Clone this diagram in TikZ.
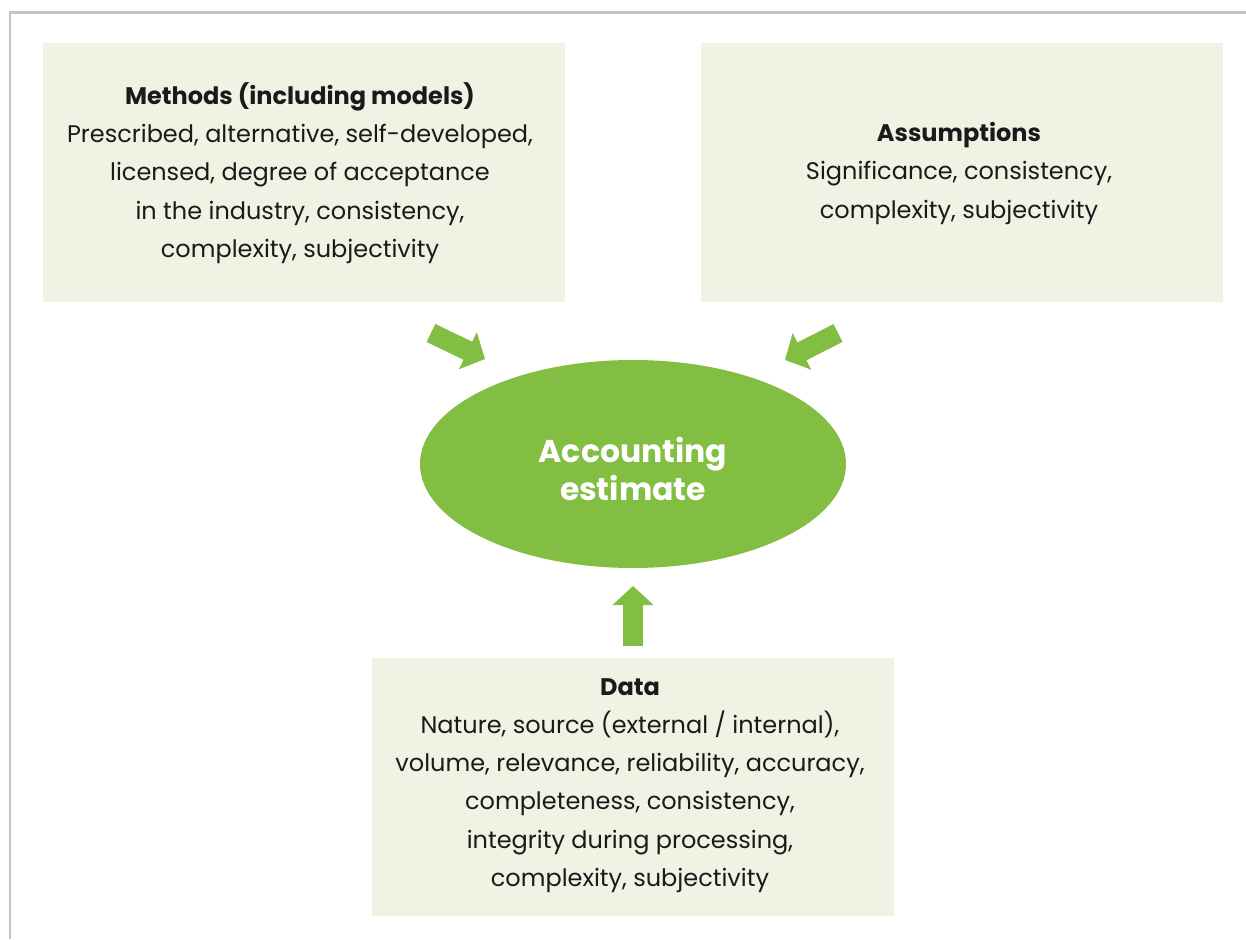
\documentclass[tikz,border=0pt]{standalone}
\usepackage{fontspec}
\setmainfont{Poppins}
\usetikzlibrary{arrows.meta,shapes.geometric}
\definecolor{boxfill}{HTML}{EEF3E4}
\definecolor{leaf}{HTML}{82BE42}
\definecolor{framegray}{HTML}{C4C4C4}
\definecolor{ink}{HTML}{1A1A1A}
\begin{document}
\begin{tikzpicture}[x=1pt,y=-1pt,
  infobox/.style={fill=boxfill, minimum width=522pt, minimum height=259pt,
    inner sep=0pt},
  infotext/.style={inner sep=0pt, align=center, text=ink,
    font=\fontsize{24}{38.3}\selectfont},
  core/.style={ellipse, fill=leaf, minimum width=426pt, minimum height=208pt,
    inner sep=0pt},
  coretext/.style={inner sep=0pt, align=center, text=white,
    font=\bfseries\fontsize{31.5}{38}\selectfont},
  blockarrow/.style={leaf, line width=20pt, -{Triangle[width=40pt,length=19pt]}}]
\useasboundingbox (0,0) rectangle (1246,939);
\draw[framegray, line width=2.5pt] (10,939) -- (10,12.5) -- (1246,12.5);

\node[infobox] (methods) at (304,172.5) {};
\node[infotext] (methodstext) at (300,173) {\textbf{Methods (including models)}\\
  Prescribed, alternative, self-developed,\\
  licensed, degree of acceptance\\
  in the industry, consistency,\\
  complexity, subjectivity};
\node[infobox] (assump) at (962,172.5) {};
\node[infotext] (assumptext) at (959,173.5) {\textbf{Assumptions}\\
  Significance, consistency,\\
  complexity, subjectivity};
\node[infobox, minimum height=258pt] (data) at (633,787) {};
\node[infotext] (datatext) at (630,785.5) {\textbf{Data}\\
  Nature, source (external / internal),\\
  volume, relevance, reliability, accuracy,\\
  completeness, consistency,\\
  integrity during processing,\\
  complexity, subjectivity};
\node[core] (estimate) at (633,464) {};
\node[coretext] (estimatetext) at (633,469) {Accounting\\estimate};

\coordinate (la0) at (431,333);
\coordinate (la1) at (485,359);
\coordinate (ra0) at (838,333);
\coordinate (ra1) at (785,360);
\coordinate (ua0) at (633,646);
\coordinate (ua1) at (633,586);
\draw[blockarrow] (la0) -- (la1);
\draw[blockarrow] (ra0) -- (ra1);
\draw[blockarrow] (ua0) -- (ua1);
\end{tikzpicture}
\end{document}
